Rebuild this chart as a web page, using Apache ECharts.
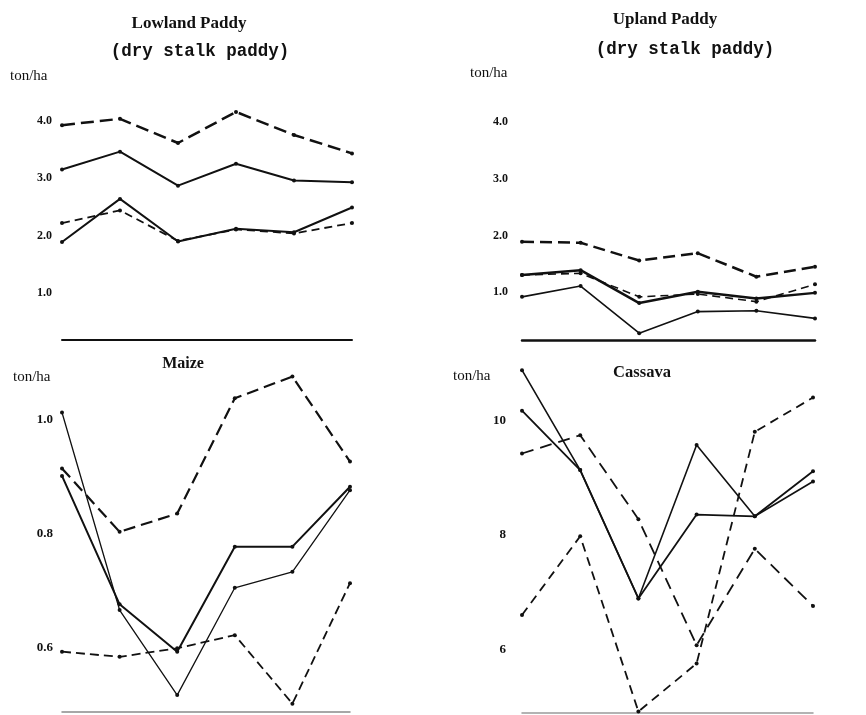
<!DOCTYPE html>
<html>
<head>
<meta charset="utf-8">
<style>
  html, body { margin: 0; padding: 0; background: #fff; }
  #chart { width: 866px; height: 715px; }
</style>
<script src="https://cdn.jsdelivr.net/npm/echarts@6/dist/echarts.min.js"></script>
</head>
<body>
<div id="chart"></div>
<script>
// ---- data ----
const categories = ['1', '2', '3', '4', '5', '6'];

// Lowland Paddy (dry stalk paddy), ton/ha
const lowlandDashTop = [3.92, 4.03, 3.61, 4.15, 3.75, 3.43];
const lowlandSolidTop = [3.15, 3.46, 2.87, 3.25, 2.96, 2.93];
const lowlandSolidLow = [1.89, 2.64, 1.90, 2.12, 2.06, 2.49];
const lowlandDashLow = [2.22, 2.44, 1.91, 2.11, 2.04, 2.22];

// Upland Paddy (dry stalk paddy), ton/ha
const uplandDashTop = [1.89, 1.875, 1.56, 1.69, 1.275, 1.45];
const uplandSolidTop = [1.305, 1.39, 0.81, 1.01, 0.89, 0.99];
const uplandDashMid = [1.305, 1.335, 0.92, 0.97, 0.835, 1.14];
const uplandSolidLow = [0.92, 1.11, 0.28, 0.66, 0.675, 0.54];

// Maize, ton/ha
const maizeDashTop = [0.914, 0.803, 0.835, 1.037, 1.075, 0.926];
const maizeSolidA = [0.901, 0.676, 0.593, 0.777, 0.777, 0.882];
const maizeSolidB = [1.012, 0.666, 0.517, 0.705, 0.733, 0.876];
const maizeDashLow = [0.593, 0.584, 0.599, 0.622, 0.502, 0.713];

// Cassava, ton/ha
const cassavaSolidA = [10.89, 9.14, 6.89, 9.58, 8.33, 8.94];
const cassavaSolidB = [10.18, 9.14, 6.89, 8.36, 8.33, 9.12];
const cassavaDashLong = [9.43, 9.75, 8.28, 6.07, 7.76, 6.76];
const cassavaDashShort = [6.60, 7.98, 4.91, 5.75, 9.81, 10.41];

// tick labels
const paddyTicks = [1, 2, 3, 4];
const maizeTicks = [0.6, 0.8, 1.0];
const cassavaTicks = [6, 8, 10];

// ---- chart ----
const ink = '#111';
const serif = 'Liberation Serif';

function xAx(gridIndex, lineColor, lineWidth) {
  return {
    type: 'category', gridIndex, data: categories, boundaryGap: false,
    axisLine: { show: true, lineStyle: { color: lineColor, width: lineWidth } },
    axisTick: { show: false }, axisLabel: { show: false }, splitLine: { show: false }
  };
}
function yAx(gridIndex, min, max, ticks, margin, fmt, size, weight) {
  return {
    type: 'value', gridIndex, min, max,
    axisLine: { show: false }, axisTick: { show: false }, splitLine: { show: false },
    axisLabel: {
      customValues: ticks, margin, formatter: fmt,
      color: ink, fontFamily: serif, fontSize: size, fontWeight: weight
    }
  };
}
function line(name, xi, data, width, type) {
  return {
    name, type: 'line', xAxisIndex: xi, yAxisIndex: xi, data,
    symbol: 'circle', symbolSize: 4, showSymbol: true,
    itemStyle: { color: ink }, lineStyle: { color: ink, width, type },
    silent: true, animation: false, z: 3
  };
}
function txt(text, x, y, size, opts) {
  opts = opts || {};
  return {
    text, left: x, top: y - size * 0.6, padding: 0,
    textAlign: opts.align || 'center',
    textStyle: {
      color: ink, fontSize: size, fontFamily: opts.family || serif,
      fontWeight: opts.weight || 'normal'
    }
  };
}

const chart = echarts.init(document.getElementById('chart'), null, { renderer: 'canvas' });
chart.setOption({
  backgroundColor: '#fff',
  animation: false,
  title: [
    txt('Lowland Paddy', 189, 25, 17, { weight: 'bold' }),
    txt('(dry stalk paddy)', 200, 53, 17.5, { family: 'Liberation Mono', weight: 'bold' }),
    txt('ton/ha', 10, 78, 15, { align: 'left' }),
    txt('Upland Paddy', 665, 21, 17, { weight: 'bold' }),
    txt('(dry stalk paddy)', 685, 51, 17.5, { family: 'Liberation Mono', weight: 'bold' }),
    txt('ton/ha', 470, 75, 15, { align: 'left' }),
    txt('Maize', 183, 365, 16, { weight: 'bold' }),
    txt('ton/ha', 13, 379, 15, { align: 'left' }),
    txt('Cassava', 642, 374, 16.5, { weight: 'bold' }),
    txt('ton/ha', 453, 378, 15, { align: 'left' })
  ],
  grid: [
    { left: 62, width: 290, top: 86, height: 253.4 },
    { left: 522, width: 293, top: 88.2, height: 252.3 },
    { left: 62, width: 288, top: 362.3, height: 349.9 },
    { left: 522, width: 291, top: 363.9, height: 349.3 }
  ],
  xAxis: [
    xAx(0, ink, 2),
    xAx(1, ink, 2.5),
    xAx(2, '#8a8a8a', 1.5),
    xAx(3, '#9a9a9a', 1.5)
  ],
  yAxis: [
    yAx(0, 0.2, 4.6, paddyTicks, 10, v => v.toFixed(1), 12, 'bold'),
    yAx(1, 0.15, 4.6, paddyTicks, 14, v => v.toFixed(1), 12, 'bold'),
    yAx(2, 0.487, 1.1, maizeTicks, 9, v => v.toFixed(1), 13, 'bold'),
    yAx(3, 4.88, 11, cassavaTicks, 16, v => String(Math.round(v)), 13, 'bold')
  ],
  series: [
    line('Lowland dashed (upper)', 0, lowlandDashTop, 2.5, [13, 6]),
    line('Lowland solid (upper)', 0, lowlandSolidTop, 2, 'solid'),
    line('Lowland solid (lower)', 0, lowlandSolidLow, 2, 'solid'),
    line('Lowland dashed (lower)', 0, lowlandDashLow, 1.8, [8, 5]),

    line('Upland dashed (upper)', 1, uplandDashTop, 2.5, [12, 6]),
    line('Upland solid (upper)', 1, uplandSolidTop, 2.5, 'solid'),
    line('Upland dashed (middle)', 1, uplandDashMid, 1.6, [8, 5]),
    line('Upland solid (lower)', 1, uplandSolidLow, 1.6, 'solid'),

    line('Maize dashed (upper)', 2, maizeDashTop, 2.2, [12, 6]),
    line('Maize solid A', 2, maizeSolidA, 2, 'solid'),
    line('Maize solid B', 2, maizeSolidB, 1.3, 'solid'),
    line('Maize dashed (lower)', 2, maizeDashLow, 1.8, [9, 5]),

    line('Cassava solid A', 3, cassavaSolidA, 1.6, 'solid'),
    line('Cassava solid B', 3, cassavaSolidB, 1.8, 'solid'),
    line('Cassava dashed (long)', 3, cassavaDashLong, 1.8, [12, 7]),
    line('Cassava dashed (short)', 3, cassavaDashShort, 1.8, [9, 6])
  ]
});
</script>
</body>
</html>
